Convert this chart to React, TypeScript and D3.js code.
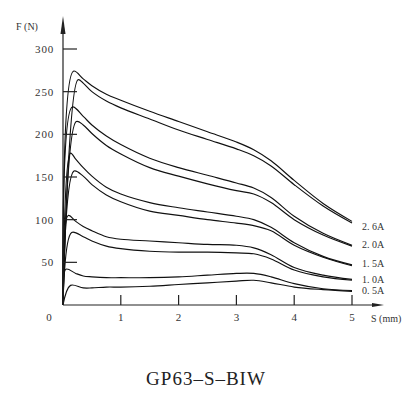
import React, { useEffect, useRef } from 'react';
import * as d3 from 'd3';

// stroke positions (mm) after the peak, shared by every curve
const sGrid = [0.22, 0.35, 0.5, 0.75, 1, 1.5, 2, 2.5, 3, 3.3, 3.6, 4, 4.5, 5];

const currents = ['2. 6A', '2. 0A', '1. 5A', '1. 0A', '0. 5A'];

// peak of each curve: [upper, lower] per current
const peakS = [[0.18, 0.26], [0.16, 0.23], [0.13, 0.19], [0.09, 0.15], [0.05, 0.13]];
const peakF = [[274, 264], [232, 215], [178, 157], [105, 85], [42, 23]];

// force (N) along sGrid (null = before the peak)
const f26Up = [null, 265, 257, 247, 240, 227, 215, 203, 191, 182, 169, 146, 119, 98];
const f26Lo = [null, 260, 250, 239, 231, 218, 205, 194, 183, 175, 163, 141, 116, 96];
const f20Up = [null, 221, 211, 198, 188, 172, 161, 152, 143, 137, 126, 104, 84, 70];
const f20Lo = [null, 211, 201, 187, 177, 161, 151, 142, 134, 130, 120, 100, 82, 69];
const f15Up = [171, 161, 151, 138, 130, 120, 114, 109, 104, 100, 91, 73, 57, 47];
const f15Lo = [null, 151, 141, 129, 121, 110, 105, 100, 96, 93, 87, 70, 56, 46];
const f10Up = [98, 92, 87, 80, 77, 75, 73, 71, 70, 67, 59, 44, 35, 30];
const f10Lo = [null, 80, 75, 69, 66, 63, 62, 62, 61, 60, 54, 41, 33, 29];
const f05Up = [37, 34, 33, 32, 32, 32, 33, 35, 37, 37, 33, 25, 19, 17];
const f05Lo = [null, 20, 20, 21, 21, 22, 24, 26, 28, 29, 26, 21, 18, 16];

const curveVals = [[f26Up, f26Lo], [f20Up, f20Lo], [f15Up, f15Lo], [f10Up, f10Lo], [f05Up, f05Lo]];

const xTicks = [1, 2, 3, 4, 5];
const yTicks = [50, 100, 150, 200, 250, 300];

const W = 412;
const H = 397;

const App = () => {
    const ref = useRef<SVGSVGElement>(null);

    useEffect(() => {
        const svg = d3.select(ref.current);
        svg.selectAll('*').remove();

        const x = d3.scaleLinear().domain([0, 5]).range([63, 352]);
        const y = d3.scaleLinear().domain([0, 300]).range([305, 49]);
        const font = '"Liberation Serif", "DejaVu Serif", serif';

        const line = d3
            .line<[number, number]>()
            .x(d => x(d[0]))
            .y(d => y(d[1]))
            .curve(d3.curveCatmullRom.alpha(0.5));

        // curves
        const g = svg.append('g').attr('fill', 'none').attr('stroke', '#111').attr('stroke-width', 1.15);
        curveVals.forEach((pair, i) => {
            pair.forEach((vals, j) => {
                const pts: [number, number][] = [[0, 0], [peakS[i][j], peakF[i][j]]];
                sGrid.forEach((s, k) => {
                    if (vals[k] != null) pts.push([s, vals[k] as number]);
                });
                g.append('path').attr('d', line(pts));
            });
        });

        // axes
        const ax = svg.append('g').attr('stroke', '#222').attr('stroke-width', 1.2);
        ax.append('line').attr('x1', x(0)).attr('x2', x(0)).attr('y1', y(0)).attr('y2', 24);
        ax.append('line').attr('x1', x(0)).attr('x2', 378).attr('y1', y(0)).attr('y2', y(0));
        svg.append('path').attr('d', `M${x(0) - 2.5},34 L${x(0)},16 L${x(0) + 2.5},34 Z`).attr('fill', '#222');
        svg.append('path').attr('d', `M372,${y(0) - 2} L384,${y(0)} L372,${y(0) + 2} Z`).attr('fill', '#222');

        ax.selectAll('.yt')
            .data(yTicks)
            .enter()
            .append('line')
            .attr('x1', x(0))
            .attr('x2', x(0) + 14)
            .attr('y1', d => y(d))
            .attr('y2', d => y(d));
        ax.selectAll('.xt')
            .data(xTicks)
            .enter()
            .append('line')
            .attr('x1', d => x(d))
            .attr('x2', d => x(d))
            .attr('y1', y(0))
            .attr('y2', y(0) - 10);

        const txt = svg.append('g').attr('font-family', font).attr('fill', '#333').attr('font-size', 11);
        txt.selectAll('.yl')
            .data(yTicks)
            .enter()
            .append('text')
            .attr('x', 54)
            .attr('y', d => y(d))
            .attr('dy', '0.35em')
            .attr('text-anchor', 'end')
            .attr('letter-spacing', 0.8)
            .text(d => d);
        txt.selectAll('.xl')
            .data(xTicks)
            .enter()
            .append('text')
            .attr('x', d => x(d))
            .attr('y', 317)
            .attr('dy', '0.35em')
            .attr('text-anchor', 'middle')
            .text(d => d);
        txt.append('text').attr('x', 49).attr('y', 317).attr('dy', '0.35em').attr('text-anchor', 'middle').text('0');
        txt.append('text').attr('x', 16).attr('y', 26).attr('dy', '0.35em').attr('font-size', 10).text('F (N)');
        txt.append('text').attr('x', 371).attr('y', 318).attr('dy', '0.35em').attr('font-size', 10).text('S (mm)');

        const labelY = [226, 244, 263, 279, 290];
        txt.selectAll('.cl')
            .data(currents)
            .enter()
            .append('text')
            .attr('x', 362)
            .attr('y', (d, i) => labelY[i])
            .attr('dy', '0.35em')
            .attr('font-size', 10)
            .text(d => d);

        svg.append('text')
            .attr('x', 206)
            .attr('y', 385)
            .attr('text-anchor', 'middle')
            .attr('font-family', font)
            .attr('font-size', 19)
            .attr('letter-spacing', 1)
            .attr('fill', '#222')
            .text('GP63–S–BIW');
    }, []);

    return (
        <svg
            ref={ref}
            width={W}
            height={H}
            style={{ position: 'absolute', left: 0, top: 0, background: '#fff' }}
        />
    );
};

export default App;
